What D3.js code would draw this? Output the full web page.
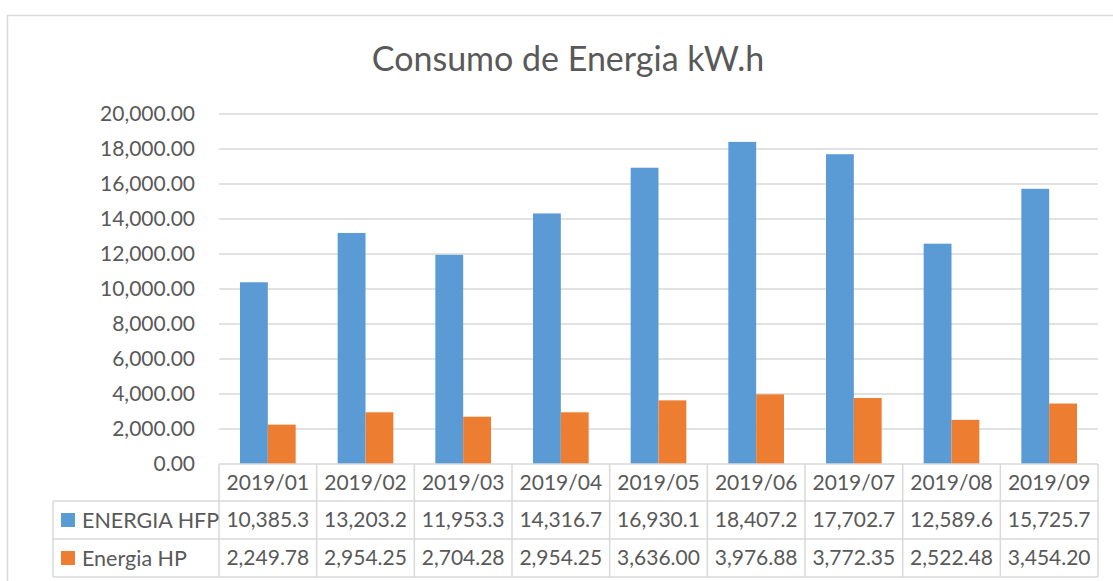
<!DOCTYPE html>
<html>
<head>
<meta charset="utf-8">
<script src="https://cdn.jsdelivr.net/npm/d3@7"></script>
<style>
  body { margin: 0; background: #fff; }
  text { font-family: Lato, "Open Sans", sans-serif; fill: #595959; }
</style>
</head>
<body>
<div id="chart"></div>
<script>
// data
var months = ["2019/01", "2019/02", "2019/03", "2019/04", "2019/05", "2019/06", "2019/07", "2019/08", "2019/09"];
var hfp = [10385.3, 13203.2, 11953.3, 14316.7, 16930.1, 18407.2, 17702.7, 12589.6, 15725.7];
var hp = [2249.78, 2954.25, 2704.28, 2954.25, 3636.00, 3976.88, 3772.35, 2522.48, 3454.20];
var hpLabels = ["2,249.78", "2,954.25", "2,704.28", "2,954.25", "3,636.00", "3,976.88", "3,772.35", "2,522.48", "3,454.20"];
var seriesNames = ["ENERGIA HFP", "Energia HP"];
var yTicks = [0, 2000, 4000, 6000, 8000, 10000, 12000, 14000, 16000, 18000, 20000];

var colors = ["#5b9bd5", "#ed7d31"];
var gridColor = "#d9d9d9";

var W = 1113, H = 581;
var margin = { top: 114, right: 15, bottom: 117, left: 219 },
  width = W - margin.left - margin.right,
  height = H - margin.top - margin.bottom;

var svg = d3.select("#chart").append("svg")
  .attr("width", W)
  .attr("height", H);

// chart area border (right and bottom fall off the picture)
svg.append("rect")
  .attr("x", 7.5).attr("y", 15.5)
  .attr("width", W + 20).attr("height", H + 20)
  .attr("fill", "none")
  .attr("stroke", gridColor)
  .attr("stroke-width", 1.5);

svg.append("text")
  .attr("x", 568).attr("y", 71)
  .attr("text-anchor", "middle")
  .style("font-size", "34px")
  .text("Consumo de Energia kW.h");

var g = svg.append("g")
  .attr("transform", "translate(" + margin.left + "," + margin.top + ")");

// scales
var x = d3.scaleBand().domain(months).range([0, width]).paddingInner(0.43).paddingOuter(0.215);
var x1 = d3.scaleBand().domain(seriesNames).range([0, x.bandwidth()]);
var y = d3.scaleLinear().domain([0, 20000]).range([height, 0]);
var fmt = d3.format(",.2f");

// gridlines
g.selectAll(".grid")
  .data(yTicks.filter(function (d) { return d > 0; }))
  .enter().append("line")
  .attr("x1", 0).attr("x2", width)
  .attr("y1", function (d) { return y(d); })
  .attr("y2", function (d) { return y(d); })
  .attr("stroke", gridColor)
  .attr("stroke-width", 1.5);

// y axis labels
g.selectAll(".ylab")
  .data(yTicks)
  .enter().append("text")
  .attr("x", -24)
  .attr("y", function (d) { return y(d); })
  .attr("dy", "0.35em")
  .attr("text-anchor", "end")
  .style("font-size", "21px")
  .text(function (d) { return fmt(d); });

// bars
var series = [hfp, hp];
var groups = g.selectAll(".month")
  .data(months)
  .enter().append("g")
  .attr("transform", function (d) { return "translate(" + x(d) + ",0)"; });

groups.selectAll("rect")
  .data(function (d, i) {
    return seriesNames.map(function (s, j) { return { key: s, value: series[j][i], c: colors[j] }; });
  })
  .enter().append("rect")
  .attr("x", function (d) { return x1(d.key); })
  .attr("width", x1.bandwidth())
  .attr("y", function (d) { return y(d.value); })
  .attr("height", function (d) { return height - y(d.value); })
  .attr("fill", function (d) { return d.c; });

// data table
var step = x.step();
var rowH = [37, 38, 38];
var rowY = [0, rowH[0], rowH[0] + rowH[1], rowH[0] + rowH[1] + rowH[2]];
var tableLeft = 53 - margin.left;
var t = g.append("g").attr("transform", "translate(0," + height + ")");

// horizontal lines
t.append("line").attr("x1", 0).attr("x2", width).attr("y1", 0).attr("y2", 0)
  .attr("stroke", gridColor).attr("stroke-width", 1.5);
[1, 2, 3].forEach(function (r) {
  t.append("line").attr("x1", tableLeft).attr("x2", width)
    .attr("y1", rowY[r]).attr("y2", rowY[r])
    .attr("stroke", gridColor).attr("stroke-width", 1.5);
});
// vertical lines
d3.range(months.length + 1).forEach(function (i) {
  t.append("line").attr("x1", i * step).attr("x2", i * step)
    .attr("y1", 0).attr("y2", rowY[3])
    .attr("stroke", gridColor).attr("stroke-width", 1.5);
});
t.append("line").attr("x1", tableLeft).attr("x2", tableLeft)
  .attr("y1", rowY[1]).attr("y2", rowY[3])
  .attr("stroke", gridColor).attr("stroke-width", 1.5);

// header row
t.selectAll(".hdr")
  .data(months)
  .enter().append("text")
  .attr("x", function (d, i) { return (i + 0.5) * step; })
  .attr("y", (rowY[0] + rowY[1]) / 2)
  .attr("dy", "0.35em")
  .attr("text-anchor", "middle")
  .style("font-size", "21px")
  .text(function (d) { return d; });

var rowsText = [
  hfp.map(function (v) { return d3.format(",.1f")(v); }),
  hpLabels
];
rowsText.forEach(function (vals, r) {
  var cy = (rowY[r + 1] + rowY[r + 2]) / 2;
  t.selectAll(".row" + r)
    .data(vals)
    .enter().append("text")
    .attr("x", function (d, i) { return (i + 0.5) * step; })
    .attr("y", cy)
    .attr("dy", "0.35em")
    .attr("text-anchor", "middle")
    .style("font-size", "21px")
    .text(function (d) { return d; });
  // legend key
  t.append("rect")
    .attr("x", tableLeft + 8).attr("y", cy - 7)
    .attr("width", 14).attr("height", 14)
    .attr("fill", colors[r]);
  t.append("text")
    .attr("x", tableLeft + 29).attr("y", cy)
    .attr("dy", "0.35em")
    .style("font-size", "21.5px")
    .text(seriesNames[r]);
});
</script>
</body>
</html>
